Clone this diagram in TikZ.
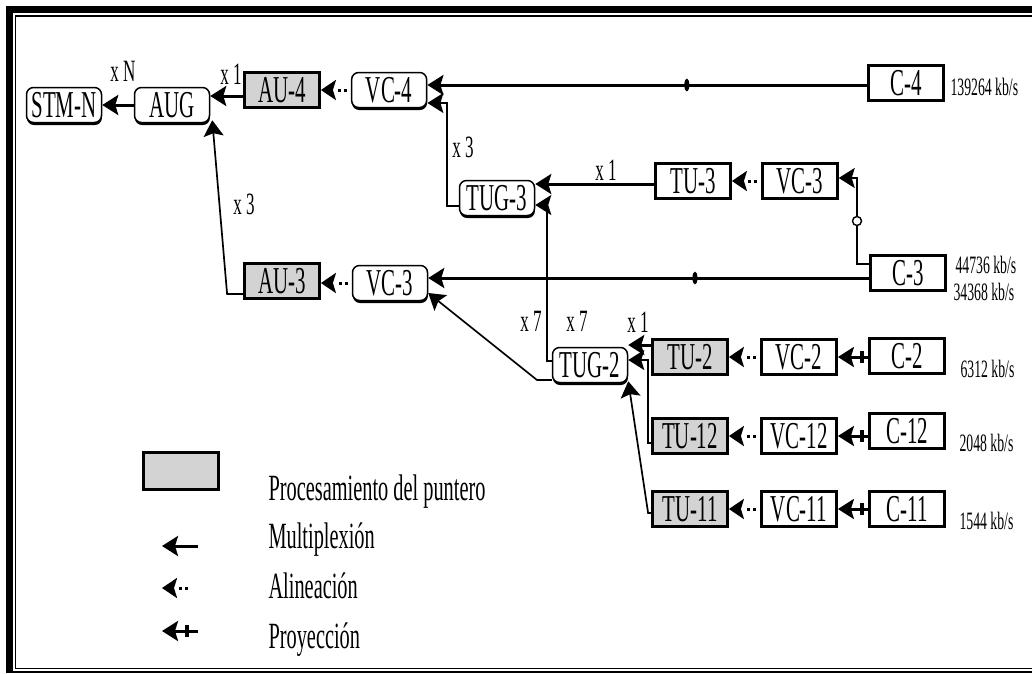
\documentclass[tikz,border=0pt]{standalone}
\usepackage{fontspec}
\usepackage{xcolor}
\usepackage{tikz}
\usetikzlibrary{arrows.meta, positioning, shapes.geometric, shadows}
\setmainfont{Liberation Serif}
\newfontfamily\cond{Liberation Serif}[FakeStretch=0.55]
\definecolor{ptr}{HTML}{D3D3D3}

\begin{document}
\begin{tikzpicture}[
      x=1pt, y=-1pt,
      box/.style={draw, line width=2.8pt, fill=white, minimum width=75pt, minimum height=35pt,
                  inner sep=0pt, text height=24pt, text depth=0pt, font=\cond\fontsize{38}{38}\selectfont},
      ptrbox/.style={box, fill=ptr},
      rbox/.style={box, line width=1.5pt, rounded corners=7pt,
                   drop shadow={shadow xshift=0.4pt, shadow yshift=-2.5pt, fill=black, opacity=1}},
      mux/.style={line width=3pt, -{Stealth[length=16pt, width=20pt, inset=3pt]}},
      link/.style={mux, line width=1.7pt},
      algn/.style={line width=3pt, dash pattern=on 0pt off 4pt on 3pt off 3pt on 3pt off 20pt,
                   -{Stealth[length=15pt, width=20pt, inset=3pt]}},
      bar/.style={fill, inner sep=0pt, minimum width=4pt, minimum height=12pt},
      oval/.style={ellipse, fill, inner sep=0pt, minimum width=5pt, minimum height=13pt},
      ring/.style={circle, draw, line width=1.4pt, fill=white, inner sep=0pt, minimum size=9pt},
      cnt/.style={anchor=base, font=\cond\fontsize{31}{31}\selectfont},
      rate/.style={anchor=base west, font=\cond\fontsize{25}{25}\selectfont},
      lgd/.style={anchor=base west, font=\cond\fontsize{37}{37}\selectfont}]
    \useasboundingbox (0,0) rectangle (1032,673);

    % frame
    \fill (6,6) rectangle (13.3,673);
    \fill (6,6) rectangle (1032,13.3);
    \draw[line width=1.6pt] (15.3,668.3) -- (15.3,15.7) -- (1032,15.7);
    \draw[line width=1.6pt] (15.3,668.3) -- (1032,668.3);
    \draw[line width=2pt] (13,671.9) -- (1032,671.9);

    % top row
    \node[rbox] (stm) at (64,105) {STM-N};
    \node[rbox] (aug) at (172,105) {AUG};
    \node[ptrbox] (au4) at (282,90) {AU-4};
    \node[rbox, right=30pt of au4] (vc4) {VC-4};
    \node[box] (c4) at (906,83) {C-4};

    % TUG-3 branch
    \node[rbox] (tug3) at (497,198) {TUG-3};
    \node[box] (tu3) at (693,181) {TU-3};
    \node[box, right=29pt of tu3] (vc3a) {VC-3};
    \node[box] (c3) at (908,273) {C-3};

    % AU-3 row
    \node[ptrbox] (au3) at (282,281) {AU-3};
    \node[rbox] (vc3b) at (390,283) {VC-3};

    % TUG-2 branch
    \node[rbox] (tug2) at (590,365) {TUG-2};
    \foreach \n/\y/\cy in {2/357/356, 12/436/431, 11/509/509} {
      \node[ptrbox] (tu\n) at (690,\y) {TU-\n};
      \node[box] (vc\n) at (799,\y) {VC-\n};
      \node[box] (c\n) at (907,\cy) {C-\n};
      \draw[algn] (vc\n) -- (tu\n);
      \draw[mux] (c\n.west |- vc\n) -- node[bar, pos=0.2] {} (vc\n.east);
    }

    % multiplexing
    \draw[mux] (aug) -- (stm);
    \draw[mux] ([yshift=-6pt]au4.west) coordinate (p1) -- (aug.east |- p1);
    \draw[link] ([yshift=-13pt]au3.west) -- ++(-16,0) -- ([xshift=2pt,yshift=3pt]aug.south east);
    \draw[mux] ([yshift=-2pt]c4.west) coordinate (p2) -- node[oval, pos=0.41] {} (vc4.east |- p2);
    \coordinate (tug3up) at (447,103);
    \draw[link] ([yshift=-8pt]tug3.west) -| (tug3up) -- (vc4.east |- tug3up);
    \draw[mux] ([yshift=-3pt]tu3.west) coordinate (p3) -- (tug3.east |- p3);
    \coordinate (c3up) at (857,178);
    \draw[link] ([yshift=9pt]c3.west) -| node[ring, pos=0.75] {} (c3up) -- (vc3a.east |- c3up);
    \draw[mux] ([yshift=-5pt]c3.west) coordinate (p4) -- node[oval, pos=0.395] {} (vc3b.east |- p4);
    \coordinate (tug2up) at (547,205);
    \draw[link] ([yshift=4pt]tug2.west) -| (tug2up) -- (tug3.east |- tug2up);
    \coordinate (tug2dg) at (537,380);
    \draw[link] ([yshift=-15pt]tug2.west) -- (tug2dg) -- ([yshift=-10pt]vc3b.east);
    \draw[mux] ([yshift=12pt]tu2.west) coordinate (p5) -- (tug2.east |- p5);
    \coordinate (tu12up) at (648,360);
    \draw[link] ([yshift=-7pt]tu12.west) -| (tu12up) -- (tug2.east |- tu12up);
    \draw[link] ([yshift=-4pt]tu11.west) -- ++(-3,0) -- ([yshift=2pt]tug2.south east);

    % alignment
    \draw[algn] (vc4) -- (au4);
    \draw[algn] (vc3a) -- (tu3);
    \draw[algn] (vc3b.west) -- (au3.east |- vc3b.west);

    % counts
    \node[cnt] (xn) at (123,81) {x N};
    \node[cnt] (x1a) at (231,84) {x 1};
    \node[cnt] (x3a) at (244,214) {x 3};
    \node[cnt] (x3b) at (463,157) {x 3};
    \node[cnt] (x1b) at (606,180) {x 1};
    \node[cnt] (x7a) at (531,331) {x 7};
    \node[cnt] (x7b) at (577,331) {x 7};
    \node[cnt] (x1c) at (638,332) {x 1};

    % rates
    \node[rate] (r4) at (947,95) {139264 kb/s};
    \node[rate] (r3a) at (952,273) {44736 kb/s};
    \node[rate] (r3b) at (950,300) {34368 kb/s};
    \node[rate] (r2) at (957,377) {6312 kb/s};
    \node[rate] (r12) at (956,451) {2048 kb/s};
    \node[rate] (r11) at (956,529) {1544 kb/s};

    % legend
    \node[ptrbox, minimum height=37pt] (lbox) at (181,471) {};
    \node[lgd] (l1) at (265,500) {Procesamiento del puntero};
    \node[lgd] (l2) at (265,548) {Multiplexión};
    \node[lgd] (l3) at (265,598) {Alineación};
    \node[lgd] (l4) at (265,648) {Proyección};
    \coordinate (m0) at (198,546); \coordinate (m1) at (162,546);
    \coordinate (a0) at (192,588); \coordinate (a1) at (162,588);
    \coordinate (p0) at (198,631); \coordinate (q1) at (162,631);
    \draw[mux] (m0) -- (m1);
    \draw[algn] (a0) -- (a1);
    \draw[mux] (p0) -- node[bar, pos=0.3] {} (q1);
  \end{tikzpicture}
\end{document}
